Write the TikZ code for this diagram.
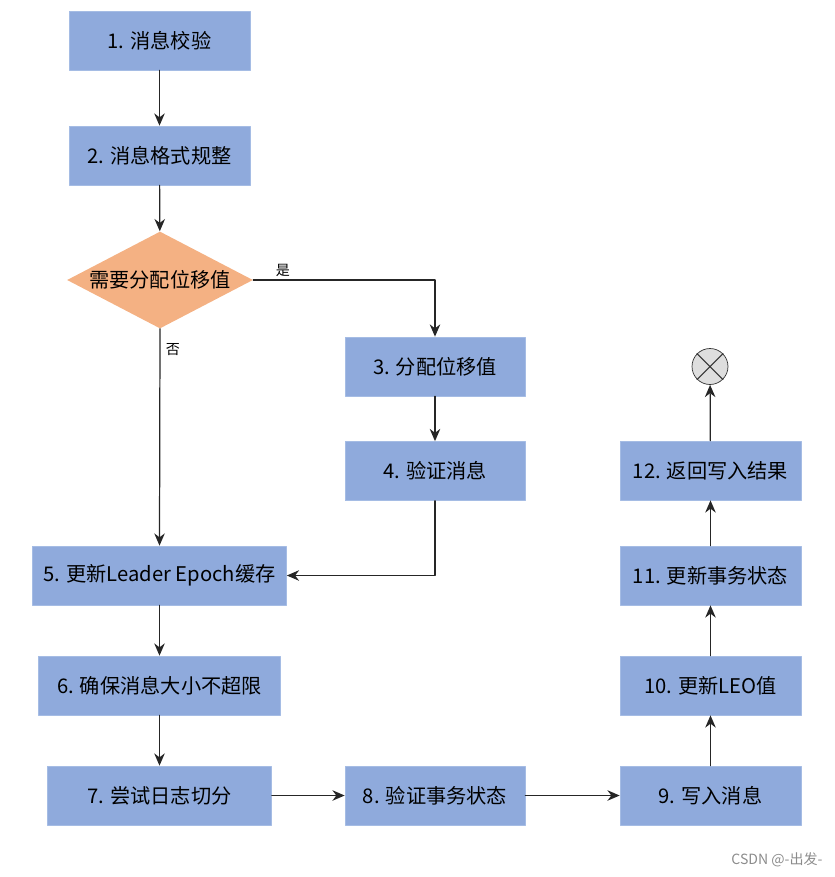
\documentclass[tikz,border=0pt]{standalone}
\usepackage{fontspec}
\newfontfamily\cjk{Noto Sans CJK SC}
\usetikzlibrary{shapes.geometric,arrows.meta}
\definecolor{boxblue}{RGB}{143,170,220}
\definecolor{boxedge}{RGB}{165,188,228}
\definecolor{choice}{RGB}{244,177,131}
\definecolor{stopgray}{RGB}{222,222,222}
\tikzset{
  stepnode/.style={draw=boxedge,fill=boxblue,minimum height=1.18cm,inner sep=0pt,
    text=black,font=\cjk\fontsize{11.5pt}{13pt}\selectfont},
  flow/.style={-{Stealth[length=7pt,width=6pt]},line width=0.7pt,draw=black!85},
  lbl/.style={font=\cjk\fontsize{8pt}{9pt}\selectfont,inner sep=0pt},
}
\begin{document}
\begin{tikzpicture}[x=0.02cm,y=-0.02cm,line cap=round,line join=round]
        \useasboundingbox (0,0) rectangle (835,877);
        \def\lx{159.5} \def\mx{435} \def\rx{710.5}
        % left column
        \node[stepnode,minimum width=3.62cm] (check) at (\lx,40.5) {1. 消息校验};
        \node[stepnode,minimum width=3.62cm] (format) at (\lx,155.5) {2. 消息格式规整};
        \node[diamond,aspect=1.92,fill=choice,minimum width=3.72cm,minimum height=1.94cm,inner sep=0pt,
          text=black,font=\cjk\fontsize{11.5pt}{13pt}\selectfont] (need) at (160,280) {需要分配位移值};
        \node[stepnode,minimum width=5.08cm] (epoch) at (\lx,575.5) {5. 更新Leader Epoch缓存};
        \node[stepnode,minimum width=4.84cm] (size) at (\lx,685.5) {6. 确保消息大小不超限};
        \node[stepnode,minimum width=4.48cm] (roll) at (\lx,795.5) {7. 尝试日志切分};
        % middle column
        \node[stepnode,minimum width=3.6cm] (assign) at (\mx,366.5) {3. 分配位移值};
        \node[stepnode,minimum width=3.6cm] (verify) at (\mx,471) {4. 验证消息};
        \node[stepnode,minimum width=3.6cm] (txn) at (\mx,795.5) {8. 验证事务状态};
        % right column
        \node[stepnode,minimum width=3.62cm] (write) at (\rx,795.5) {9. 写入消息};
        \node[stepnode,minimum width=3.62cm] (leo) at (\rx,685.5) {10. 更新LEO值};
        \node[stepnode,minimum width=3.62cm] (state) at (\rx,575.5) {11. 更新事务状态};
        \node[stepnode,minimum width=3.62cm] (result) at (\rx,470.5) {12. 返回写入结果};
        \node[circle,draw=black!80,fill=stopgray,minimum size=0.72cm,inner sep=0pt] (stop) at (710,366.5) {};
        \draw[black!80,line width=0.6pt] (stop.45)--(stop.225) (stop.135)--(stop.315);

        \draw[flow] (check)--(format);
        \draw[flow] (format)--(need);
        \draw[flow] (need.east) -| (assign.north);
        \draw[flow] (need.south)--(epoch.north);
        \draw[flow] (assign)--(verify);
        \draw[flow] (verify.south) |- (epoch.east);
        \draw[flow] (epoch)--(size);
        \draw[flow] (size)--(roll);
        \draw[flow] (roll)--(txn);
        \draw[flow] (txn)--(write);
        \draw[flow] (write)--(leo);
        \draw[flow] (leo)--(state);
        \draw[flow] (state)--(result);
        \draw[flow] (result)--(stop);

        \node[lbl] (yes) at (283,270) {是};
        \node[lbl] (no) at (173,350) {否};
        \node[lbl,text=black!45] (mark) at (777,860) {CSDN @-出发-};
      \end{tikzpicture}
\end{document}
